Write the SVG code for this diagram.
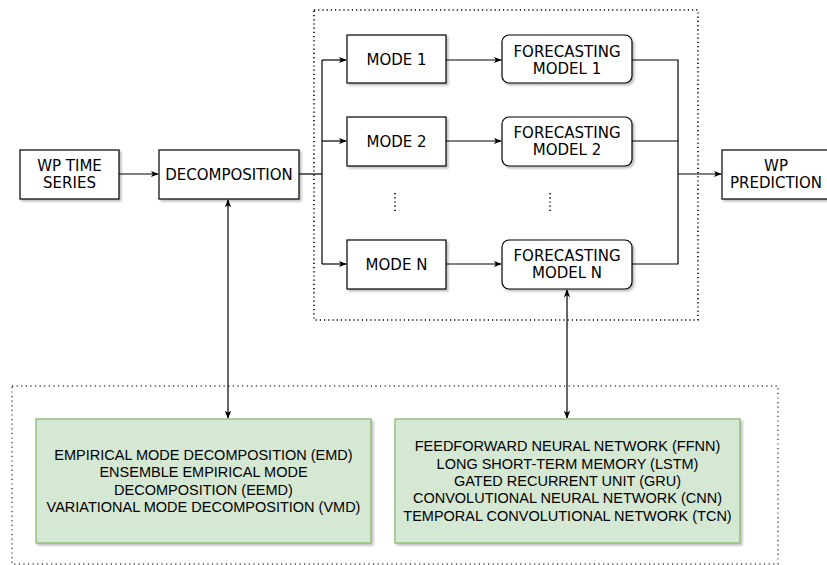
<svg xmlns="http://www.w3.org/2000/svg" width="827" height="565" viewBox="0 0 827 565">
<defs>
<marker id="arr" viewBox="0 0 10 10" refX="9" refY="5" markerWidth="8" markerHeight="8" markerUnits="userSpaceOnUse" orient="auto-start-reverse">
<path d="M0,1 L10,5 L0,9 L2.5,5 Z" fill="#000"/>
</marker>
<filter id="sh" x="-10%" y="-10%" width="130%" height="130%">
<feDropShadow dx="2" dy="2" stdDeviation="0.8" flood-color="#000" flood-opacity="0.25"/>
</filter>
</defs>
<style>
.box{fill:#fff;stroke:#000;stroke-width:1.2;filter:url(#sh)}
.gbox{fill:#d5e8d4;stroke:#82b366;stroke-width:1.2;filter:url(#sh)}
.t{font-family:"DejaVu Sans",Verdana,sans-serif;font-size:15px;fill:#000;text-anchor:middle}
.g{font-family:"Liberation Sans",Arial,sans-serif;font-size:14.5px;fill:#000;text-anchor:middle}
.c{fill:none;stroke:#000;stroke-width:1.2}
.dot{fill:none;stroke:#000;stroke-width:1.6;stroke-dasharray:1.2 3}
.dot2{fill:none;stroke:#444;stroke-width:1.4;stroke-dasharray:1.2 3.4}
</style>
<rect class="dot" x="314" y="10" width="384" height="310"/>
<rect class="dot2" x="12" y="386" width="766" height="178"/>
<g id="connectors">
<path class="c" d="M119,174 H158" marker-end="url(#arr)"/>
<path class="c" d="M299,174 H322"/>
<path class="c" d="M322,60 V264"/>
<path class="c" d="M322,60 H346" marker-end="url(#arr)"/>
<path class="c" d="M322,141 H346" marker-end="url(#arr)"/>
<path class="c" d="M322,264 H346" marker-end="url(#arr)"/>
<path class="c" d="M446,60 H501" marker-end="url(#arr)"/>
<path class="c" d="M446,141 H501" marker-end="url(#arr)"/>
<path class="c" d="M446,264 H501" marker-end="url(#arr)"/>
<path class="c" d="M632,60 H678 V264 H632"/>
<path class="c" d="M632,141 H678"/>
<path class="c" d="M678,174 H721" marker-end="url(#arr)"/>
<path class="c" d="M228,200 V418" marker-start="url(#arr)" marker-end="url(#arr)"/>
<path class="c" d="M567,290 V418" marker-start="url(#arr)" marker-end="url(#arr)"/>
<path class="dot" d="M395,193 V214"/>
<path class="dot" d="M550,193 V214"/>
</g>
<g id="wp-time-series"><rect class="box" x="20" y="150" width="99" height="49"/><text class="t" x="69.5" y="171">WP TIME</text><text class="t" x="69.5" y="188">SERIES</text></g>
<g id="decomposition"><rect class="box" x="159" y="150" width="140" height="49"/><text class="t" x="229" y="179.5">DECOMPOSITION</text></g>
<g id="mode1"><rect class="box" x="347" y="35" width="99" height="48"/><text class="t" x="396.5" y="64.5">MODE 1</text></g>
<g id="mode2"><rect class="box" x="347" y="117" width="99" height="49"/><text class="t" x="396.5" y="146.5">MODE 2</text></g>
<g id="modeN"><rect class="box" x="347" y="240" width="99" height="49"/><text class="t" x="396.5" y="269.5">MODE N</text></g>
<g id="fm1"><rect class="box" x="502" y="35" width="130" height="48" rx="7"/><text class="t" x="567" y="57">FORECASTING</text><text class="t" x="567" y="74">MODEL 1</text></g>
<g id="fm2"><rect class="box" x="502" y="117" width="130" height="49" rx="7"/><text class="t" x="567" y="138">FORECASTING</text><text class="t" x="567" y="155">MODEL 2</text></g>
<g id="fmN"><rect class="box" x="502" y="240" width="130" height="49" rx="7"/><text class="t" x="567" y="261">FORECASTING</text><text class="t" x="567" y="278">MODEL N</text></g>
<g id="wp-prediction"><rect class="box" x="722" y="150" width="106" height="49"/><text class="t" x="776" y="171">WP</text><text class="t" x="776" y="188">PREDICTION</text></g>
<g id="decomp-methods"><rect class="gbox" x="36" y="419" width="335" height="124"/>
<text class="g" x="203.5" y="460">EMPIRICAL MODE DECOMPOSITION (EMD)</text>
<text class="g" x="203.5" y="477.3">ENSEMBLE EMPIRICAL MODE</text>
<text class="g" x="203.5" y="494.6">DECOMPOSITION (EEMD)</text>
<text class="g" x="203.5" y="511.9">VARIATIONAL MODE DECOMPOSITION (VMD)</text></g>
<g id="forecast-methods"><rect class="gbox" x="395" y="419" width="345" height="124"/>
<text class="g" x="567.5" y="451.4">FEEDFORWARD NEURAL NETWORK (FFNN)</text>
<text class="g" x="567.5" y="468.7">LONG SHORT-TERM MEMORY (LSTM)</text>
<text class="g" x="567.5" y="486">GATED RECURRENT UNIT (GRU)</text>
<text class="g" x="567.5" y="503.3">CONVOLUTIONAL NEURAL NETWORK (CNN)</text>
<text class="g" x="567.5" y="520.6">TEMPORAL CONVOLUTIONAL NETWORK (TCN)</text></g>
</svg>
